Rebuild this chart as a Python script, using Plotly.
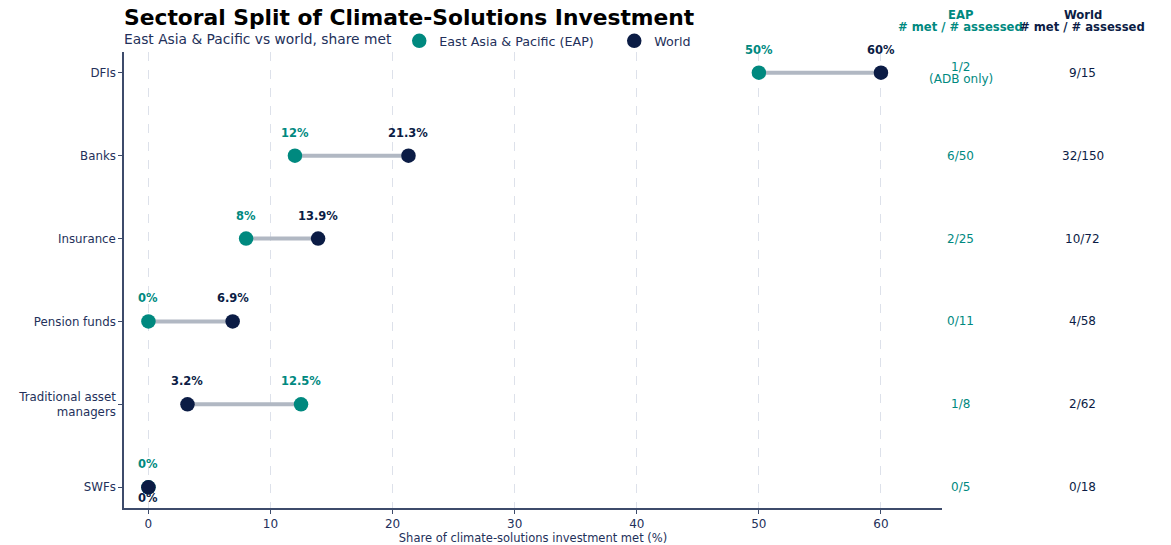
import plotly.graph_objects as go

# Sector rows, top to bottom
sectors = ["DFIs", "Banks", "Insurance", "Pension funds", "Traditional asset<br>managers", "SWFs"]
eap_share = [50, 12, 8, 0, 12.5, 0]
world_share = [60, 21.3, 13.9, 6.9, 3.2, 0]
eap_labels = ["50%", "12%", "8%", "0%", "12.5%", "0%"]
world_labels = ["60%", "21.3%", "13.9%", "6.9%", "3.2%", "0%"]
eap_counts = [["1/2", "(ADB only)"], ["6/50"], ["2/25"], ["0/11"], ["1/8"], ["0/5"]]
world_counts = ["9/15", "32/150", "10/72", "4/58", "2/62", "0/18"]

TEAL = "#00897f"
NAVY = "#0b1c45"
GREY_LINE = "#b1b8c3"
TEXT = "#23305a"
FONT = "DejaVu Sans"
LINE_GAP = 12  # px between stacked text lines

ypos = list(range(len(sectors)))

fig = go.Figure()

# connector segments
for i in ypos:
    fig.add_trace(go.Scatter(
        x=[eap_share[i], world_share[i]], y=[i, i], mode="lines",
        line=dict(color=GREY_LINE, width=4), showlegend=False, hoverinfo="skip"))

fig.add_trace(go.Scatter(
    x=eap_share, y=ypos, mode="markers", name="East Asia & Pacific (EAP)",
    marker=dict(color=TEAL, size=14.5)))
fig.add_trace(go.Scatter(
    x=world_share, y=ypos, mode="markers", name="World",
    marker=dict(color=NAVY, size=14.5)))

annotations = []
for i in ypos:
    annotations.append(dict(x=eap_share[i], y=i, xref="x", yref="y", text=f"<b>{eap_labels[i]}</b>",
                            showarrow=False, yshift=23, font=dict(color=TEAL, size=11.5, family=FONT)))
    w_shift = -11 if (eap_share[i] == world_share[i]) else 23
    annotations.append(dict(x=world_share[i], y=i, xref="x", yref="y", text=f"<b>{world_labels[i]}</b>",
                            showarrow=False, yshift=w_shift, font=dict(color=NAVY, size=11.5, family=FONT)))
    lines = eap_counts[i]
    n = len(lines)
    for k, line in enumerate(lines):
        shift = ((n - 1) / 2 - k) * LINE_GAP
        annotations.append(dict(x=1.023, y=i, xref="paper", yref="y", text=line, showarrow=False,
                                xanchor="center", yshift=shift, font=dict(color=TEAL, size=12, family=FONT)))
    annotations.append(dict(x=1.172, y=i, xref="paper", yref="y", text=world_counts[i], showarrow=False,
                            xanchor="center", font=dict(color=NAVY, size=12, family=FONT)))

# column headers (two stacked lines each)
for xp, head, col in [(1.023, "EAP", TEAL), (1.172, "World", NAVY)]:
    annotations.append(dict(x=xp, y=1, xref="paper", yref="paper", xanchor="center", yanchor="middle",
                            yshift=37, text=f"<b>{head}</b>", showarrow=False,
                            font=dict(color=col, size=11.6, family=FONT)))
    annotations.append(dict(x=xp, y=1, xref="paper", yref="paper", xanchor="center", yanchor="middle",
                            yshift=25, text="<b># met / # assessed</b>", showarrow=False,
                            font=dict(color=col, size=11.6, family=FONT)))

# title and subtitle
annotations.append(dict(x=0, y=1, xref="paper", yref="paper", xanchor="left", yanchor="bottom", yshift=20,
                        xshift=-2, text="<b>Sectoral Split of Climate-Solutions Investment</b>", showarrow=False,
                        font=dict(color="#000000", size=21.8, family=FONT)))
annotations.append(dict(x=0, y=1, xref="paper", yref="paper", xanchor="left", yanchor="bottom", yshift=3,
                        xshift=-2, text="East Asia & Pacific vs world, share met", showarrow=False,
                        font=dict(color=TEXT, size=13.8, family=FONT)))

fig.update_layout(
    width=1171, height=545,
    margin=dict(l=124, r=229, t=52, b=37),
    plot_bgcolor="white", paper_bgcolor="white",
    font=dict(family=FONT, color=TEXT, size=12),
    annotations=annotations,
    legend=dict(orientation="h", x=0.3365, y=0.991, xanchor="left", yanchor="bottom",
                font=dict(size=12.7, color=TEXT, family=FONT), bgcolor="rgba(0,0,0,0)",
                itemwidth=30, entrywidth=170),
    xaxis=dict(range=[-2, 65], tickvals=[0, 10, 20, 30, 40, 50, 60], showgrid=True,
               gridcolor="#dde1ea", griddash="dash", gridwidth=1, zeroline=False,
               showline=True, linecolor="#3d4b6b", linewidth=1.5, ticks="outside",
               ticklen=4, tickcolor="#3d4b6b", tickfont=dict(size=12, color=TEXT),
               automargin=False,
               title=dict(text="Share of climate-solutions investment met (%)",
                          font=dict(size=11.5, color=TEXT), standoff=4)),
    yaxis=dict(range=[5.25, -0.25], tickvals=ypos, ticktext=sectors, showgrid=False,
               zeroline=False, showline=True, linecolor="#3d4b6b", linewidth=1.5,
               ticks="outside", ticklen=4, tickcolor="#3d4b6b", automargin=False,
               tickfont=dict(size=11.8, color=TEXT)),
)

fig.write_html("out.html")
